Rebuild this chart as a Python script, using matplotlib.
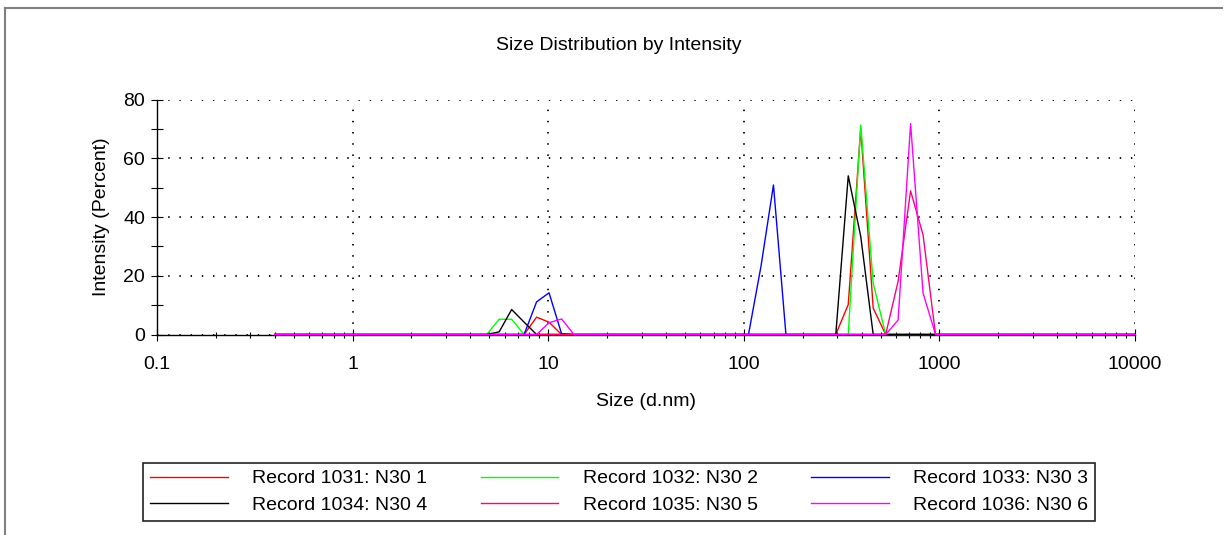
import matplotlib
matplotlib.use("Agg")
import matplotlib.pyplot as plt
from matplotlib.lines import Line2D
from matplotlib.ticker import LogLocator, MultipleLocator, FixedLocator

plt.rcParams['font.family'] = ['Liberation Sans', 'DejaVu Sans']

# size classes (d.nm)
sizes = [0.4, 0.4632, 0.5365, 0.6213, 0.7195, 0.8332, 0.9649, 1.117, 1.294, 1.499,
         1.736, 2.010, 2.328, 2.696, 3.122, 3.615, 4.187, 4.849, 5.615, 6.503,
         7.531, 8.721, 10.10, 11.70, 13.54, 15.69, 18.17, 21.04, 24.36, 28.21,
         32.67, 37.84, 43.82, 50.75, 58.77, 68.06, 78.82, 91.28, 105.7, 122.4,
         141.8, 164.2, 190.1, 220.2, 255.0, 295.3, 342.0, 396.1, 458.7, 531.2,
         615.1, 712.4, 825.0, 955.4, 1106, 1281, 1484, 1718, 1990, 2305,
         2669, 3091, 3580, 4145, 4801, 5560, 6439, 7456, 8635, 10000]

# intensity (%) per size class
rec_1031 = [0, 0, 0, 0, 0, 0, 0, 0, 0, 0,
            0, 0, 0, 0, 0, 0, 0, 0, 0, 0,
            0, 5.9, 4.2, 0, 0, 0, 0, 0, 0, 0,
            0, 0, 0, 0, 0, 0, 0, 0, 0, 0,
            0, 0, 0, 0, 0, 0, 10.2, 70.1, 9.0, 0,
            0, 0, 0, 0, 0, 0, 0, 0, 0, 0,
            0, 0, 0, 0, 0, 0, 0, 0, 0, 0]
rec_1032 = [0, 0, 0, 0, 0, 0, 0, 0, 0, 0,
            0, 0, 0, 0, 0, 0, 0, 0, 5.2, 5.2,
            0, 0, 0, 0, 0, 0, 0, 0, 0, 0,
            0, 0, 0, 0, 0, 0, 0, 0, 0, 0,
            0, 0, 0, 0, 0, 0, 0, 71.3, 17.5, 0,
            0, 0, 0, 0, 0, 0, 0, 0, 0, 0,
            0, 0, 0, 0, 0, 0, 0, 0, 0, 0]
rec_1033 = [0, 0, 0, 0, 0, 0, 0, 0, 0, 0,
            0, 0, 0, 0, 0, 0, 0, 0, 0, 0,
            0, 11.1, 14.2, 0.3, 0, 0, 0, 0, 0, 0,
            0, 0, 0, 0, 0, 0, 0, 0, 0, 23.2,
            50.9, 0, 0, 0, 0, 0, 0, 0, 0, 0,
            0, 0, 0, 0, 0, 0, 0, 0, 0, 0,
            0, 0, 0, 0, 0, 0, 0, 0, 0, 0]
rec_1034 = [0, 0, 0, 0, 0, 0, 0, 0, 0, 0,
            0, 0, 0, 0, 0, 0, 0, 0, 0.9, 8.5,
            4.2, 0, 0, 0, 0, 0, 0, 0, 0, 0,
            0, 0, 0, 0, 0, 0, 0, 0, 0, 0,
            0, 0, 0, 0, 0, 0, 54.0, 33.4, 0, 0,
            0, 0, 0, 0, 0, 0, 0, 0, 0, 0,
            0, 0, 0, 0, 0, 0, 0, 0, 0, 0]
rec_1035 = [0, 0, 0, 0, 0, 0, 0, 0, 0, 0,
            0, 0, 0, 0, 0, 0, 0, 0, 0, 0,
            0, 0, 0, 0, 0, 0, 0, 0, 0, 0,
            0, 0, 0, 0, 0, 0, 0, 0, 0, 0,
            0, 0, 0, 0, 0, 0, 0, 0, 0, 0,
            18.1, 48.9, 33.9, 0, 0, 0, 0, 0, 0, 0,
            0, 0, 0, 0, 0, 0, 0, 0, 0, 0]
rec_1036 = [0, 0, 0, 0, 0, 0, 0, 0, 0, 0,
            0, 0, 0, 0, 0, 0, 0, 0, 0, 0,
            0, 0, 4.0, 5.3, 0, 0, 0, 0, 0, 0,
            0, 0, 0, 0, 0, 0, 0, 0, 0, 0,
            0, 0, 0, 0, 0, 0, 0, 0, 0, 0,
            4.9, 71.8, 14.1, 0, 0, 0, 0, 0, 0, 0,
            0, 0, 0, 0, 0, 0, 0, 0, 0, 0]

records = [rec_1031, rec_1032, rec_1033, rec_1034, rec_1035, rec_1036]
labels = ["Record 1031: N30 1", "Record 1032: N30 2", "Record 1033: N30 3",
          "Record 1034: N30 4", "Record 1035: N30 5", "Record 1036: N30 6"]
colors = ['#ff0000', '#00ff00', '#0000ff', '#000000', '#ff0080', '#ff00ff']

fig = plt.figure(figsize=(12.24, 5.35), dpi=100)
W, H = 1224, 535
ax = fig.add_axes([157 / W, 1 - 334.5 / H, 978 / W, 235 / H])

lines = []
for vals, lab, col in zip(records, labels, colors):
    ln, = ax.plot(sizes, vals, color=col, lw=1.0, label=lab, clip_on=False, zorder=3)
    lines.append(ln)

ax.set_xscale('log')
ax.set_xlim(0.1, 10000)
ax.set_ylim(0, 80)

ax.xaxis.set_major_locator(FixedLocator([0.1, 1, 10, 100, 1000, 10000]))
ax.set_xticklabels(['0.1', '1', '10', '100', '1000', '10000'])
ax.xaxis.set_minor_locator(LogLocator(base=10, subs=range(2, 10)))
ax.yaxis.set_major_locator(MultipleLocator(20))
ax.yaxis.set_minor_locator(MultipleLocator(10))

for s in ['top', 'right']:
    ax.spines[s].set_visible(False)
for s in ['left', 'bottom']:
    ax.spines[s].set_linewidth(1.0)
    ax.spines[s].set_zorder(2.5)

ax.tick_params(axis='both', which='major', direction='inout', length=9, width=0.8,
               labelsize=14)
ax.tick_params(axis='both', which='minor', direction='inout', length=5, width=0.8)
ax.tick_params(axis='y', which='minor', length=8)
ax.tick_params(axis='x', which='major', pad=11)
ax.tick_params(axis='y', which='major', pad=4)

# sparse dotted grid at the decades and every 20 %
ax.grid(which='major', color='black', linestyle=(0, (0.8, 5.4)), linewidth=1.3)
ax.set_axisbelow(True)
ax.yaxis.get_gridlines()[0].set_visible(False)

ax.set_xlabel('Size (d.nm)', fontsize=14)
ax.xaxis.label.set_va('center')
ax.xaxis.set_label_coords(0.5, -(402 - 334.5) / 235)
ax.set_ylabel('Intensity (Percent)', fontsize=14)
ax.yaxis.label.set_va('center')
ax.yaxis.set_label_coords(-(157 - 101.5) / 978, 0.5)

fig.text(619 / W, 1 - 45 / H, 'Size Distribution by Intensity', fontsize=14,
         ha='center', va='center')

# legend: row-wise order over three columns
order = [0, 3, 1, 4, 2, 5]
leg = fig.legend([lines[i] for i in order], [labels[i] for i in order],
                 loc='upper left', bbox_to_anchor=(143 / W, 1 - 463 / H),
                 ncol=3, fontsize=14, frameon=True, fancybox=False,
                 edgecolor='#222222', framealpha=1, handlelength=4.0,
                 handletextpad=1.25, columnspacing=2.75, borderpad=0.35,
                 labelspacing=0.45, borderaxespad=0)
leg.get_frame().set_linewidth(1.2)

# outer frame (top and left edges)
fig.add_artist(Line2D([5 / W, 1222 / W], [1 - 8 / H, 1 - 8 / H],
                      transform=fig.transFigure, color='#808080', lw=1.5))
fig.add_artist(Line2D([5 / W, 5 / W], [1 - 8 / H, 0],
                      transform=fig.transFigure, color='#808080', lw=1.5))

fig.savefig('out.png', dpi=100)
